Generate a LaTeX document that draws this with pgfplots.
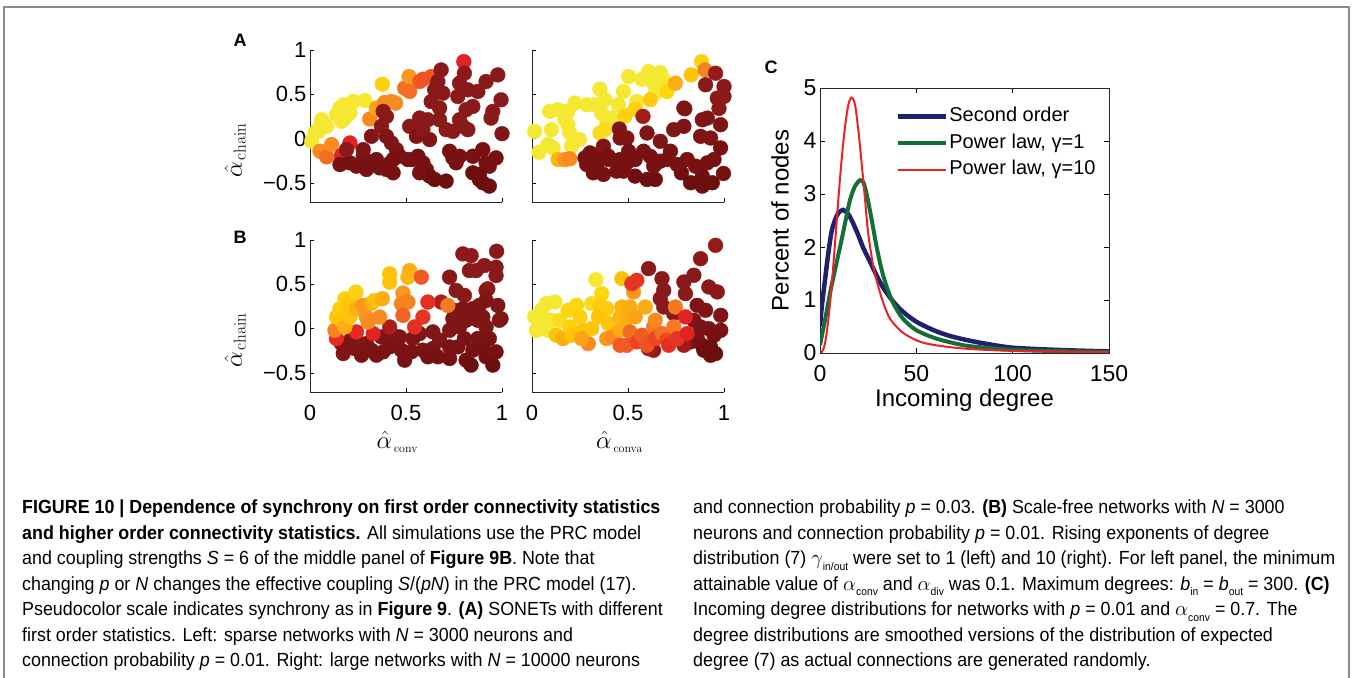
\documentclass[border=0pt]{standalone}
\usepackage{pgfplots}
\pgfplotsset{compat=1.18}
\usepackage[no-math]{fontspec}
\setmainfont{Liberation Sans}
\newfontfamily\capfont[FakeStretch=0.94]{Liberation Sans}
\definecolor{navy}{RGB}{32,32,110}
\definecolor{dgreen}{RGB}{22,110,55}
\definecolor{lred}{RGB}{236,32,40}
\newcommand\sub[1]{\raisebox{-0.55ex}{\fontsize{11bp}{11bp}\selectfont #1}}
\pgfplotsset{
  colormap={sync}{[1cm] rgb255(0cm)=(100,10,12) rgb255(20cm)=(138,25,25) rgb255(35cm)=(175,28,28) rgb255(45cm)=(225,35,35) rgb255(55cm)=(238,70,35) rgb255(65cm)=(242,110,35) rgb255(75cm)=(250,150,30) rgb255(85cm)=(255,195,10) rgb255(92cm)=(252,215,15) rgb255(100cm)=(245,232,50)},
  scat/.style={width=192bp, height=152bp, scale only axis, xmin=0, xmax=1, ymin=-0.715, ymax=1,
    axis x line*=bottom, axis y line*=left, axis line style={-, line width=0.8bp, black!85},
    tick style={line width=0.6bp, black}, tick align=inside, major tick length=4bp,
    xtick={0,0.5,1}, ytick={-0.5,0,0.5,1}, clip=false, point meta min=0, point meta max=1,
    colormap name=sync, ticklabel style={font=\fontsize{22bp}{22bp}\selectfont},
    xticklabel style={yshift=-10bp},
    yticklabels={−0.5,0,0.5,1}, xticklabels={0,0.5,1},
    ylabel style={at={(axis description cs:-0.39,0.34)}, anchor=center, rotate=0, font=\fontsize{25bp}{25bp}\selectfont},
    xlabel style={at={(axis description cs:0.455,-0.33)}, anchor=center, font=\fontsize{23bp}{23bp}\selectfont}},
  dots/.style={scatter, only marks, mark=*, mark size=7.4bp, scatter src=explicit, scatter/use mapped color={draw=mapped color, fill=mapped color}},
  /pgf/number format/assume math mode=true
}
\begin{document}
\begin{tikzpicture}
\path[use as bounding box] (0bp,0bp) rectangle (1352bp,678bp);
\draw[black!45, line width=1.4bp] (4bp,0bp) -- (4bp,671bp) -- (1349bp,671bp) -- (1349bp,0bp);
% panel labels
\node[font=\fontsize{18bp}{18bp}\selectfont\bfseries] at (240bp,638bp) {A};
\node[font=\fontsize{18bp}{18bp}\selectfont\bfseries] at (240bp,441bp) {B};
\node[font=\fontsize{18bp}{18bp}\selectfont\bfseries] at (771bp,611bp) {C};

% ---------- A left
\begin{axis}[scat, at={(310bp,476bp)}, anchor=south west, xticklabels={}, ylabel={$\hat{\alpha}_{\scriptstyle\mkern2mu\mathrm{chain}}$}]
\addplot[dots] table[meta=c, row sep=\\] {x y c\\
0.009 -0.03 1\\ 0.026 0.064 1\\ 0.043 0.08 1\\ 0.052 0.139 1\\ 0.061 0.213 1\\ 0.087 0.139 1\\
0.138 0.270 1\\ 0.156 0.345 1\\ 0.164 0.195 1\\ 0.173 0.382 1\\ 0.182 0.232 1\\ 0.208 0.288 1\\
0.225 0.419 1\\ 0.285 0.431 1\\ 0.377 0.614 0.9\\
0.052 -0.142 0.72\\ 0.087 -0.206 0.65\\ 0.112 -0.067 0.72\\ 0.311 0.221 0.72\\ 0.346 0.345 0.78\\
0.389 0.408 0.72\\ 0.424 0.419 0.72\\ 0.446 0.401 0.72\\ 0.493 0.569 0.65\\ 0.516 0.700 0.75\\
0.519 0.532 0.65\\ 0.571 0.644 0.6\\ 0.588 0.670 0.58\\ 0.631 0.700 0.58\\
0.164 -0.191 0.45\\ 0.208 -0.049 0.45\\ 0.801 0.869 0.45\\
0.156 -0.292 0.1\\ 0.208 -0.273 0.1\\ 0.242 -0.311 0.1\\ 0.277 -0.199 0.15\\ 0.303 -0.273 0.1\\
0.346 -0.236 0.1\\ 0.363 -0.330 0.1\\ 0.294 -0.348 0.1\\ 0.190 -0.124 0.2\\ 0.277 -0.124 0.15\\
0.320 0.026 0.15\\ 0.381 0.307 0.2\\ 0.398 0.251 0.2\\ 0.372 0.139 0.2\\ 0.398 0.026 0.15\\
0.424 -0.049 0.15\\ 0.450 -0.124 0.15\\ 0.433 -0.236 0.1\\ 0.467 -0.199 0.1\\ 0.407 -0.292 0.1\\
0.433 -0.386 0.1\\ 0.398 -0.348 0.1\\ 0.519 0.139 0.2\\ 0.554 0.026 0.15\\ 0.571 0.232 0.2\\
0.588 0.101 0.2\\ 0.614 0.213 0.2\\ 0.562 -0.199 0.1\\ 0.588 -0.273 0.1\\ 0.606 -0.348 0.1\\
0.623 -0.423 0.05\\ 0.571 -0.386 0.1\\ 0.536 -0.236 0.1\\ 0.510 -0.236 0.1\\ 0.623 -0.011 0.15\\
0.631 0.419 0.2\\ 0.649 0.551 0.2\\ 0.666 0.644 0.2\\ 0.683 0.775 0.2\\ 0.692 0.513 0.2\\
0.675 0.345 0.2\\ 0.675 0.213 0.2\\ 0.709 0.101 0.2\\ 0.744 0.082 0.2\\ 0.727 -0.142 0.1\\
0.744 -0.217 0.1\\ 0.761 -0.273 0.1\\ 0.779 -0.199 0.1\\ 0.649 -0.461 0.05\\ 0.709 -0.479 0.05\\
0.770 0.476 0.2\\ 0.779 0.625 0.2\\ 0.804 0.738 0.2\\ 0.822 0.551 0.2\\ 0.813 0.326 0.2\\
0.848 0.363 0.2\\ 0.822 0.101 0.2\\ 0.779 0.213 0.2\\ 0.796 0.139 0.2\\ 0.874 0.532 0.2\\
0.917 0.644 0.2\\ 0.978 0.719 0.2\\ 0.995 0.438 0.2\\ 0.952 0.307 0.2\\ 0.943 0.232 0.2\\
1.0 0.056 0.15\\ 0.900 -0.124 0.1\\ 0.848 -0.199 0.1\\ 0.917 -0.273 0.1\\ 0.969 -0.217 0.1\\
0.934 -0.311 0.1\\ 0.882 -0.404 0.05\\ 0.848 -0.386 0.05\\ 0.900 -0.498 0.05\\ 0.934 -0.536 0.05\\
0.882 -0.461 0.05\\
};
\end{axis}

% ---------- A right
\begin{axis}[scat, at={(532bp,476bp)}, anchor=south west, xticklabels={}, yticklabels={}]
\addplot[dots] table[meta=c, row sep=\\] {x y c\\
0.014 0.082 1\\ 0.037 -0.154 1\\ 0.084 -0.067 1\\ 0.101 0.101 1\\ 0.092 0.307 1\\ 0.136 0.326 1\\
0.171 0.213 1\\ 0.187 0.307 1\\ 0.223 0.401 1\\ 0.197 0.064 1\\ 0.187 0.157 1\\ 0.206 -0.086 1\\
0.246 -0.011 1\\ 0.110 -0.105 1\\ 0.285 0.382 1\\ 0.328 0.382 1\\ 0.354 0.558 1\\ 0.380 0.438 1\\
0.363 0.288 1\\ 0.389 0.213 1\\ 0.415 0.232 1\\ 0.354 0.064 0.95\\ 0.380 0.101 0.95\\ 0.450 0.382 1\\
0.485 0.258 0.9\\ 0.476 0.532 1\\ 0.503 0.700 1\\ 0.546 0.419 1\\ 0.537 0.333 0.9\\ 0.572 0.670 1\\
0.607 0.757 1\\ 0.634 0.625 1\\ 0.642 0.513 1\\ 0.668 0.745 1\\ 0.686 0.663 1\\ 0.703 0.532 0.92\\
0.616 0.438 0.88\\ 0.747 0.625 0.8\\ 0.829 0.719 0.85\\ 0.883 0.869 0.9\\ 0.901 0.775 0.7\\
0.136 -0.236 0.82\\ 0.171 -0.236 0.75\\ 0.197 -0.228 0.72\\
0.578 0.251 0.3\\ 0.455 0.109 0.15\\ 0.459 0.007 0.15\\ 0.494 0.007 0.15\\ 0.599 0.064 0.15\\
0.668 -0.030 0.15\\ 0.738 0.101 0.15\\ 0.791 0.139 0.15\\ 0.796 0.337 0.2\\ 0.887 0.213 0.15\\
0.913 0.232 0.15\\ 0.982 0.157 0.15\\ 0.878 0.026 0.15\\ 0.930 0.007 0.15\\ 0.974 0.341 0.2\\
1.0 0.476 0.2\\ 0.965 0.457 0.2\\ 1.0 0.588 0.2\\ 0.904 0.607 0.2\\ 0.956 0.738 0.25\\
0.982 -0.105 0.1\\ 0.948 -0.236 0.1\\ 0.913 -0.273 0.1\\ 0.887 -0.423 0.05\\ 0.939 -0.498 0.05\\
0.887 -0.536 0.05\\ 0.997 -0.393 0.1\\ 0.826 -0.498 0.05\\ 0.852 -0.311 0.1\\ 0.808 -0.236 0.1\\
0.778 -0.386 0.05\\ 0.756 -0.292 0.1\\ 0.721 -0.142 0.1\\ 0.703 -0.236 0.1\\ 0.668 -0.255 0.1\\
0.634 -0.311 0.1\\ 0.599 -0.461 0.05\\ 0.642 -0.461 0.05\\ 0.616 -0.199 0.1\\ 0.581 -0.142 0.1\\
0.537 -0.236 0.1\\ 0.537 -0.423 0.05\\ 0.494 -0.273 0.1\\ 0.503 -0.142 0.1\\ 0.476 -0.367 0.1\\
0.441 -0.367 0.1\\ 0.459 -0.236 0.1\\ 0.398 -0.236 0.1\\ 0.372 -0.404 0.1\\ 0.337 -0.311 0.1\\
0.345 -0.180 0.1\\ 0.372 -0.086 0.15\\ 0.302 -0.161 0.1\\ 0.276 -0.217 0.1\\ 0.285 -0.292 0.1\\
0.319 -0.386 0.1\\ 0.398 -0.199 0.1\\ 0.791 0.345 0.15\\
};
\end{axis}

% ---------- B left
\begin{axis}[scat, at={(310bp,286bp)}, anchor=south west, ylabel={$\hat{\alpha}_{\scriptstyle\mkern2mu\mathrm{chain}}$}, xlabel={$\hat{\alpha}_{\scriptscriptstyle\mkern3mu\mathrm{conv}}$}]
\addplot[dots] table[meta=c, row sep=\\] {x y c\\
0.164 -0.169 0.15\\ 0.173 -0.281 0.15\\ 0.216 -0.112 0.15\\ 0.234 -0.225 0.15\\ 0.268 -0.300 0.12\\
0.294 -0.169 0.15\\ 0.320 -0.243 0.12\\ 0.372 -0.094 0.15\\ 0.381 -0.262 0.12\\ 0.415 -0.206 0.12\\
0.433 -0.075 0.15\\ 0.467 -0.094 0.15\\ 0.476 -0.243 0.12\\ 0.493 -0.356 0.1\\ 0.528 -0.262 0.12\\
0.536 -0.112 0.15\\ 0.571 -0.056 0.15\\ 0.588 -0.243 0.12\\ 0.614 -0.318 0.1\\ 0.640 -0.225 0.12\\
0.666 -0.318 0.1\\ 0.675 -0.131 0.15\\ 0.727 -0.337 0.1\\ 0.727 -0.206 0.12\\ 0.727 -0.019 0.15\\
0.744 0.112 0.15\\ 0.753 0.206 0.15\\ 0.727 0.581 0.2\\ 0.761 0.431 0.2\\ 0.804 0.375 0.2\\
0.796 0.225 0.15\\ 0.813 0.094 0.15\\ 0.779 0.019 0.15\\ 0.804 -0.112 0.12\\ 0.770 -0.206 0.12\\
0.813 -0.356 0.08\\ 0.839 -0.412 0.05\\ 0.848 -0.243 0.1\\ 0.874 -0.112 0.12\\ 0.874 0.094 0.15\\
0.848 0.225 0.15\\ 0.882 0.262 0.15\\ 0.900 0.131 0.15\\ 0.917 0.019 0.15\\ 0.934 -0.112 0.12\\
0.900 -0.206 0.1\\ 0.917 -0.318 0.08\\ 0.952 -0.412 0.05\\ 0.969 -0.262 0.1\\ 0.986 0.094 0.15\\
0.978 0.262 0.15\\ 0.995 0.112 0.15\\ 0.917 0.431 0.2\\ 0.926 0.449 0.2\\ 0.865 0.655 0.2\\
0.908 0.712 0.2\\ 0.969 0.693 0.2\\ 0.969 0.599 0.2\\ 0.972 0.873 0.2\\ 0.796 0.843 0.22\\
0.839 0.824 0.22\\ 0.830 0.655 0.2\\ 0.917 0.318 0.15\\ 0.640 -0.037 0.15\\ 0.346 -0.300 0.12\\
0.260 -0.169 0.15\\
0.138 -0.112 0.47\\ 0.242 -0.037 0.47\\ 0.329 -0.056 0.45\\ 0.415 0.019 0.35\\ 0.683 0.300 0.35\\
0.130 -0.019 0.7\\ 0.138 0.131 0.85\\ 0.156 0.225 0.88\\ 0.164 0.094 0.85\\ 0.182 0.337 0.9\\
0.199 0.243 0.86\\ 0.216 0.318 0.86\\ 0.239 0.412 0.9\\ 0.182 0.019 0.8\\ 0.208 0.131 0.85\\
0.242 0.225 0.8\\ 0.277 0.262 0.75\\ 0.294 0.131 0.75\\ 0.320 0.288 0.8\\ 0.337 0.318 0.85\\
0.303 0.075 0.72\\ 0.363 0.131 0.72\\ 0.377 0.337 0.8\\ 0.415 0.618 0.85\\ 0.415 0.524 0.85\\
0.484 0.401 0.75\\ 0.476 0.281 0.7\\ 0.510 0.300 0.7\\ 0.484 0.150 0.62\\ 0.519 0.655 0.8\\
0.510 0.581 0.82\\ 0.580 0.581 0.6\\ 0.614 0.300 0.48\\ 0.588 0.131 0.5\\ 0.545 0.019 0.48\\
0.718 0.262 0.68\\
};
\end{axis}

% ---------- B right
\begin{axis}[scat, at={(532bp,286bp)}, anchor=south west, yticklabels={}, xlabel={$\hat{\alpha}_{\scriptscriptstyle\mkern3mu\mathrm{conva}}$}]
\addplot[dots] table[meta=c, row sep=\\] {x y c\\
0.607 0.677 0.2\\ 0.677 0.564 0.2\\ 0.686 0.432 0.2\\ 0.668 0.338 0.2\\ 0.686 0.244 0.2\\
0.738 0.169 0.2\\ 0.791 0.526 0.2\\ 0.799 0.395 0.2\\ 0.843 0.602 0.2\\ 0.878 0.789 0.22\\
0.860 0.263 0.15\\ 0.904 0.207 0.15\\ 0.921 0.470 0.2\\ 0.965 0.414 0.2\\ 0.956 0.940 0.25\\
0.983 0.150 0.15\\ 0.843 0.094 0.15\\ 0.878 0.019 0.12\\ 0.921 0 0.12\\ 0.983 -0.019 0.12\\
0.948 -0.075 0.1\\ 0.860 -0.094 0.12\\ 0.825 -0.150 0.12\\ 0.791 -0.188 0.3\\ 0.887 -0.188 0.08\\
0.930 -0.207 0.05\\ 0.956 -0.282 0.05\\ 0.930 -0.301 0.05\\ 0.895 -0.244 0.05\\ 0.633 -0.244 0.25\\
0.607 -0.226 0.3\\
0.014 0.132 1\\ 0.023 -0.019 1\\ 0.049 0.207 1\\ 0.075 0.282 1\\ 0.119 0.301 1\\ 0.101 0.094 1\\
0.084 -0.019 1\\ 0.066 0.075 1\\ 0.145 0.094 0.95\\ 0.188 0.207 0.92\\ 0.232 0.263 0.92\\
0.250 0.132 0.9\\ 0.197 0.019 0.9\\ 0.127 -0.075 0.85\\ 0.162 -0.113 0.8\\ 0.206 -0.075 0.85\\
0.267 -0.019 0.85\\ 0.311 0.282 0.95\\ 0.333 0.553 1\\ 0.363 0.395 0.92\\ 0.354 0.263 0.88\\
0.389 0.226 0.88\\ 0.346 0.132 0.85\\ 0.311 0 0.85\\ 0.293 -0.169 0.72\\ 0.258 -0.113 0.78\\
0.398 0.056 0.85\\ 0.389 -0.113 0.75\\ 0.424 -0.094 0.72\\ 0.459 -0.019 0.8\\ 0.459 0.132 0.82\\
0.468 0.244 0.82\\ 0.494 0.113 0.8\\ 0.511 0.244 0.8\\ 0.468 0.564 0.85\\ 0.529 0.414 0.75\\
0.546 0.545 0.5\\ 0.520 0.508 0.5\\ 0.590 0.244 0.8\\ 0.538 0.132 0.78\\ 0.511 -0.038 0.65\\
0.459 -0.188 0.6\\ 0.494 -0.188 0.6\\ 0.546 -0.150 0.55\\ 0.573 -0.075 0.6\\ 0.599 -0.188 0.58\\
0.633 0.019 0.68\\ 0.642 0.094 0.72\\ 0.642 -0.113 0.55\\ 0.677 -0.056 0.65\\ 0.703 -0.132 0.55\\
0.738 0.019 0.68\\ 0.747 0.244 0.68\\ 0.712 -0.188 0.48\\ 0.756 -0.113 0.5\\ 0.799 0.132 0.45\\
0.808 -0.056 0.45\\
};
\end{axis}

% ---------- C
\begin{axis}[at={(820bp,325bp)}, anchor=south west, width=289bp, height=265bp, scale only axis,
  xmin=0, xmax=150, ymin=0, ymax=5, xtick={0,50,100,150}, ytick={0,1,2,3,4,5},
  tick align=inside, major tick length=5bp, axis line style={line width=0.8bp, black!85},
  tick style={line width=0.6bp, black},
  ticklabel style={font=\fontsize{23bp}{23bp}\selectfont},
  xticklabel style={yshift=-9bp},
  xlabel={Incoming degree}, ylabel={Percent of nodes},
  label style={font=\fontsize{24bp}{24bp}\selectfont},
  xlabel style={at={(axis description cs:0.5,-0.177)}, anchor=center},
  ylabel style={at={(axis description cs:-0.138,0.5)}, anchor=center},
  legend style={at={(axis description cs:0.26,0.935)}, anchor=north west, draw=none, fill=none,
    font=\fontsize{20bp}{20bp}\selectfont, inner sep=0pt, row sep=4bp,
    nodes={inner sep=1.5bp, text height=15bp, text depth=4.5bp}},
  legend cell align=left,
  legend image code/.code={\draw[#1] (0bp,0bp) -- (48bp,0bp);}]
\addplot[navy, line width=4.5bp, smooth] coordinates {(0,0.5) (1,0.9) (2.6,1.38) (4.3,1.88) (6,2.29) (7.8,2.51) (9.5,2.64) (12,2.7) (14.7,2.62) (17.3,2.44) (19.9,2.22) (22.5,1.98) (26,1.72) (29.4,1.46) (33,1.22) (38,0.97) (43,0.78) (50,0.59) (59,0.43) (67.5,0.32) (78,0.23) (90,0.15) (100,0.1) (115,0.07) (130,0.05) (150,0.03)};
\addlegendentry{Second order}
\addplot[dgreen, line width=4bp, smooth] coordinates {(0,0.15) (2.6,0.62) (5.2,1.13) (7.8,1.57) (10.4,2.0) (13,2.45) (15.6,2.89) (18.2,3.15) (20.8,3.26) (22.5,3.22) (24.2,3.0) (26.8,2.52) (29.4,2.0) (32,1.57) (34.6,1.25) (38,0.94) (43,0.65) (50,0.43) (60.5,0.27) (72.7,0.16) (80,0.12) (100,0.06) (125,0.035) (150,0.02)};
\addlegendentry{Power law, γ=1}
\addplot[lred, line width=2bp, smooth] coordinates {(0,0) (1,0.02) (2.6,0.18) (4.3,0.62) (6,1.25) (7.8,2.07) (9.5,2.89) (11.2,3.64) (13,4.27) (14.7,4.68) (16.4,4.82) (18.2,4.68) (19.9,4.2) (21.6,3.58) (23.4,2.89) (25,2.26) (27.7,1.63) (30.3,1.25) (32.9,0.94) (36.3,0.65) (41.5,0.43) (46.7,0.30) (55,0.18) (72.7,0.09) (100,0.04) (150,0.015)};
\addlegendentry{Power law, γ=10}
\end{axis}

% ---------- caption
\begin{scope}[every node/.style={anchor=base west, inner sep=0pt, font=\capfont\fontsize{19bp}{22bp}\selectfont}]
\node at (22bp,164bp) {\textbf{FIGURE 10 | Dependence of synchrony on first order connectivity statistics}};
\node at (22bp,138.6bp) {\textbf{and higher order connectivity statistics.} All simulations use the PRC model};
\node at (22bp,113.2bp) {and coupling strengths \textit{S} = 6 of the middle panel of \textbf{Figure 9B}. Note that};
\node at (22bp,87.8bp) {changing \textit{p} or \textit{N} changes the effective coupling \textit{S}/(\textit{pN}) in the PRC model (17).};
\node at (22bp,62.4bp) {Pseudocolor scale indicates synchrony as in \textbf{Figure 9}. \textbf{(A)} SONETs with different};
\node at (22bp,37bp) {first order statistics. Left: sparse networks with \textit{N} = 3000 neurons and};
\node at (22bp,11.6bp) {connection probability \textit{p} = 0.01. Right: large networks with \textit{N} = 10000 neurons};
\node at (693bp,164bp) {and connection probability \textit{p} = 0.03. \textbf{(B)} Scale-free networks with \textit{N} = 3000};
\node at (693bp,138.6bp) {neurons and connection probability \textit{p} = 0.01. Rising exponents of degree};
\node at (693bp,113.2bp) {distribution (7) $\gamma$\sub{in/out} were set to 1 (left) and 10 (right). For left panel, the minimum};
\node at (693bp,87.8bp) {attainable value of $\alpha$\sub{conv} and $\alpha$\sub{div} was 0.1. Maximum degrees: \textit{b}\sub{in} = \textit{b}\sub{out} = 300. \textbf{(C)}};
\node at (693bp,62.4bp) {Incoming degree distributions for networks with \textit{p} = 0.01 and $\alpha$\sub{conv} = 0.7. The};
\node at (693bp,37bp) {degree distributions are smoothed versions of the distribution of expected};
\node at (693bp,11.6bp) {degree (7) as actual connections are generated randomly.};
\end{scope}
\end{tikzpicture}
\end{document}
